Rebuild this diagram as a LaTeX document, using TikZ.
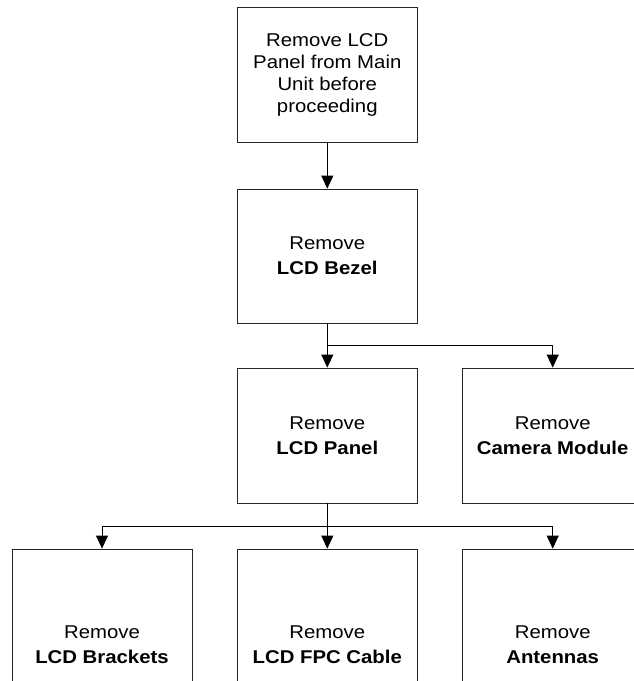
\documentclass[tikz,border=0pt]{standalone}
\usepackage{fontspec}
\setmainfont[FakeStretch=1.1]{Liberation Sans}
\usetikzlibrary{arrows.meta}
\begin{document}
\begin{tikzpicture}[x=1pt,y=-1pt,
  stepbox/.style={draw=black!85,line width=0.8pt,fill=white,minimum width=180pt,align=center,inner sep=2pt,font=\fontsize{18.5}{25}\selectfont},
  conn/.style={draw=black,line width=0.8pt,-{Triangle[length=13pt,width=12pt]}},
  line/.style={draw=black,line width=0.8pt}]
\useasboundingbox (0,0) rectangle (634,681);
\clip (0,0) rectangle (634,681);
\fill[white] (0,0) rectangle (634,681);
\node[stepbox,minimum height=135.3pt,font=\fontsize{18.5}{22.2}\selectfont] (top) at (327.3,75) {Remove LCD\\Panel from Main\\Unit before\\proceeding};
\node[stepbox,minimum height=134pt] (bezel) at (327.3,256) {Remove\\\textbf{LCD Bezel}};
\node[stepbox,minimum height=135pt] (panel) at (327.3,435.5) {Remove\\\textbf{LCD Panel}};
\node[stepbox,minimum height=135pt] (camera) at (552.7,435.5) {Remove\\\textbf{Camera Module}};
\node[stepbox,minimum height=192pt] (brackets) at (102,645) {Remove\\\textbf{LCD Brackets}};
\node[stepbox,minimum height=192pt] (fpc) at (327.3,645) {Remove\\\textbf{LCD FPC Cable}};
\node[stepbox,minimum height=192pt] (antennas) at (552.7,645) {Remove\\\textbf{Antennas}};
\coordinate (j1) at (327.3,345);
\coordinate (j2) at (327.3,526);
\draw[conn] (top) -- (bezel);
\draw[line] (bezel.south) -- (j1);
\draw[conn] (j1) -- (panel.north);
\draw[conn] (j1) -| (camera.north);
\draw[line] (panel.south) -- (j2);
\draw[conn] (j2) -- (fpc.north);
\draw[conn] (j2) -| (brackets.north);
\draw[conn] (j2) -| (antennas.north);
\end{tikzpicture}
\end{document}
